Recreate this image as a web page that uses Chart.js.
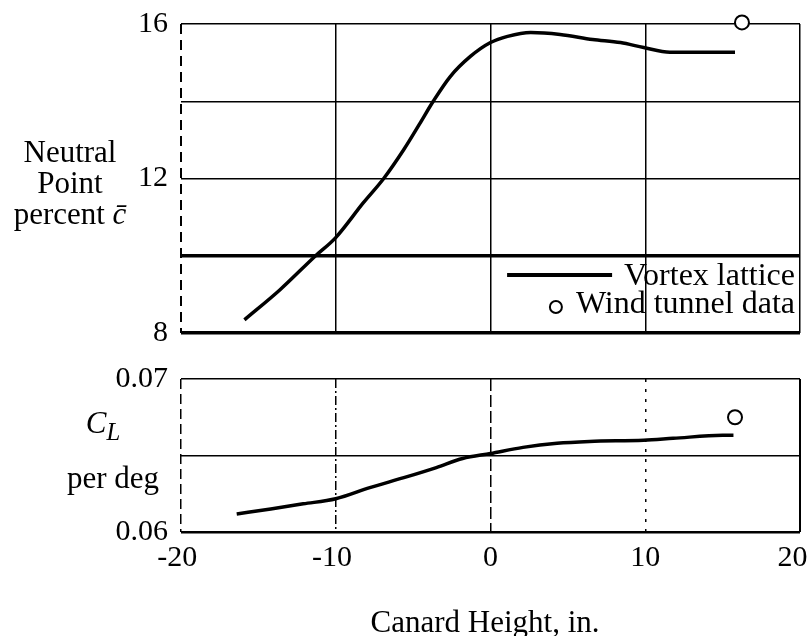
<!DOCTYPE html>
<html>
<head>
<meta charset="utf-8">
<script src="https://cdn.jsdelivr.net/npm/chart.js@4.4.1/dist/chart.umd.min.js"></script>
<style>
  body { margin: 0; background: #fff; font-family: "Liberation Serif", serif; }
  #wrap { position: relative; width: 812px; height: 636px; overflow: hidden; }
  .box { position: absolute; left: 0; width: 812px; }
  .lbl { position: absolute; color: #000; font-size: 31px; line-height: 31px; text-align: center; white-space: nowrap; }
  .lbl sub { font-size: 0.8em; vertical-align: -0.3em; line-height: 0; }
</style>
</head>
<body>
<div id="wrap">
  <div class="box" style="top:0;height:350px"><canvas id="npChart"></canvas></div>
  <div class="box" style="top:345px;height:291px"><canvas id="clChart"></canvas></div>
  <div class="lbl" style="left:0;top:136px;width:140px">Neutral<br>Point<br>percent <i>c&#x0304;</i></div>
  <div class="lbl" style="left:60px;top:407px;width:86px"><i>C<sub>L</sub></i></div>
  <div class="lbl" style="left:60px;top:462px;width:106px">per deg</div>
  <div class="lbl" style="left:335px;top:606px;width:300px">Canard Height, in.</div>
</div>
<script>
// canard height (in.) ticks shared by both panels
const xTicks = [-20, -10, 0, 10, 20];
const xTickLabels = ['-20\u00a0', '-10\u00a0', '0', '10', '20\u00a0\u00a0'];

// neutral point, percent c-bar
const npTicks = [8, 10, 12, 14, 16];
const npTickLabels = ['8', '', '12', '', '16'];
const npX = [-15.9, -13.6, -11.3, -10, -8.2, -6.9, -5.6, -4.6, -3.7, -2.6, -1.3, 0, 1.1, 2.6, 4.5, 6.6, 8.4, 9.9, 11.6, 13.5, 15.8];
const npVortex = [8.34, 9.12, 10.0, 10.47, 11.38, 12.0, 12.75, 13.4, 14.0, 14.64, 15.16, 15.52, 15.68, 15.78, 15.73, 15.6, 15.52, 15.39, 15.27, 15.27, 15.27];
const npWindX = [16.25];
const npWind = [16.04];

// lift curve slope CL per deg
const clTicks = [0.06, 0.065, 0.07];
const clTickLabels = ['0.06', '', '0.07'];
const clX = [-16.4, -14.2, -12.1, -10, -7.8, -5.6, -3.5, -1.8, 0, 2.1, 4.3, 6.4, 9.9, 11.8, 15.0, 15.7];
const clVortex = [0.06118, 0.06151, 0.06184, 0.06217, 0.0629, 0.06355, 0.06421, 0.0648, 0.06513, 0.06553, 0.0658, 0.06592, 0.066, 0.06612, 0.06632, 0.06632];
const clWindX = [15.8];
const clWind = [0.0675];

const seriesNames = ['Vortex lattice', 'Wind tunnel data'];

const FONT = '"Liberation Serif", "Times New Roman", serif';
const pts = (xs, ys) => xs.map((x, i) => ({ x: x, y: ys[i] }));

function lineSet(xs, ys, label) {
  return {
    label: label,
    data: pts(xs, ys),
    showLine: true,
    borderColor: '#000',
    borderWidth: 3.5,
    pointRadius: 0,
    cubicInterpolationMode: 'monotone',
    fill: false
  };
}

function windSet(xs, ys, label) {
  return {
    label: label,
    data: pts(xs, ys),
    showLine: false,
    pointStyle: 'circle',
    pointRadius: 7,
    pointBorderWidth: 2,
    pointBorderColor: '#000',
    pointBackgroundColor: '#fff',
    clip: false
  };
}

// legend drawn inside the lower right of the top panel
const insideLegend = {
  id: 'insideLegend',
  afterDraw(chart) {
    if (!chart.options.plugins.insideLegend) return;
    const { ctx, chartArea } = chart;
    const right = chartArea.right - 5;
    const ds = chart.data.datasets;
    ctx.save();
    ctx.font = '32px ' + FONT;
    ctx.fillStyle = '#000';
    ctx.textAlign = 'right';
    ctx.textBaseline = 'alphabetic';
    const y1 = chartArea.bottom - 48;
    const y2 = chartArea.bottom - 20;
    ctx.fillText(ds[0].label, right, y1);
    ctx.fillText(ds[1].label, right, y2);
    const w1 = ctx.measureText(ds[0].label).width;
    const w2 = ctx.measureText(ds[1].label).width;
    ctx.strokeStyle = '#000';
    ctx.lineWidth = 4;
    ctx.beginPath();
    ctx.moveTo(right - w1 - 117, y1 - 10);
    ctx.lineTo(right - w1 - 12, y1 - 10);
    ctx.stroke();
    ctx.lineWidth = 2;
    ctx.beginPath();
    ctx.arc(right - w2 - 20, y2 - 6, 6, 0, Math.PI * 2);
    ctx.stroke();
    ctx.restore();
  }
};

function yAxis(min, max, ticks, labels, widthFn) {
  return {
    min: min, max: max,
    afterBuildTicks: s => { s.ticks = ticks.map(v => ({ value: v })); },
    afterFit: s => { s.width = 181; s.paddingTop = 0; s.paddingBottom = 0; },
    border: { display: false, dash: () => [] },
    grid: { color: '#000', lineWidth: widthFn, drawTicks: false },
    ticks: {
      color: '#000', padding: 13,
      font: { family: FONT, size: 30 },
      callback: (v, i) => labels[i]
    }
  };
}

function xAxis(showLabels, dashFn, widthFn) {
  return {
    type: 'linear', min: -20, max: 20,
    afterBuildTicks: s => { s.ticks = xTicks.map(v => ({ value: v })); },
    afterFit: s => {
      if (!showLabels) s.height = 0;
      s.paddingLeft = 0; s.paddingRight = 0;
    },
    border: { display: false, dash: dashFn },
    grid: { color: '#000', lineWidth: widthFn, drawTicks: false },
    ticks: {
      display: showLabels, color: '#000', padding: 8, maxRotation: 0,
      font: { family: FONT, size: 30 },
      callback: (v, i) => xTickLabels[i]
    }
  };
}

new Chart(document.getElementById('npChart'), {
  type: 'scatter',
  data: {
    datasets: [lineSet(npX, npVortex, seriesNames[0]), windSet(npWindX, npWind, seriesNames[1])]
  },
  options: {
    responsive: true,
    maintainAspectRatio: false,
    animation: false,
    layout: { padding: { top: 24, right: 12, bottom: 17, left: 0 } },
    plugins: { legend: { display: false }, tooltip: { enabled: false }, insideLegend: true },
    scales: {
      x: xAxis(false,
        c => (c.tick && c.tick.value === -20) ? [10, 6] : [],
        c => (c.tick && c.tick.value === -20) ? 2 : 1.5),
      y: yAxis(8, 16, npTicks, npTickLabels,
        c => (c.tick && (c.tick.value === 10 || c.tick.value === 8)) ? 3.5 : 1.5)
    }
  },
  plugins: [insideLegend]
});

new Chart(document.getElementById('clChart'), {
  type: 'scatter',
  data: {
    datasets: [lineSet(clX, clVortex, seriesNames[0]), windSet(clWindX, clWind, seriesNames[1])]
  },
  options: {
    responsive: true,
    maintainAspectRatio: false,
    animation: false,
    layout: { padding: { top: 34, right: 12, bottom: 52, left: 0 } },
    plugins: { legend: { display: false }, tooltip: { enabled: false }, insideLegend: false },
    scales: {
      x: xAxis(true,
        c => {
          const v = c.tick ? c.tick.value : null;
          if (v === -20) return [10, 5];
          if (v === -10) return [9, 3, 2, 3];
          if (v === 0) return [12, 4];
          if (v === 10) return [3, 7];
          return [];
        },
        c => (c.tick && c.tick.value === 20) ? 2 : 1.5),
      y: yAxis(0.06, 0.07, clTicks, clTickLabels,
        c => (c.tick && c.tick.value === 0.06) ? 2.5 : 1.5)
    }
  },
  plugins: [insideLegend]
});
</script>
</body>
</html>
